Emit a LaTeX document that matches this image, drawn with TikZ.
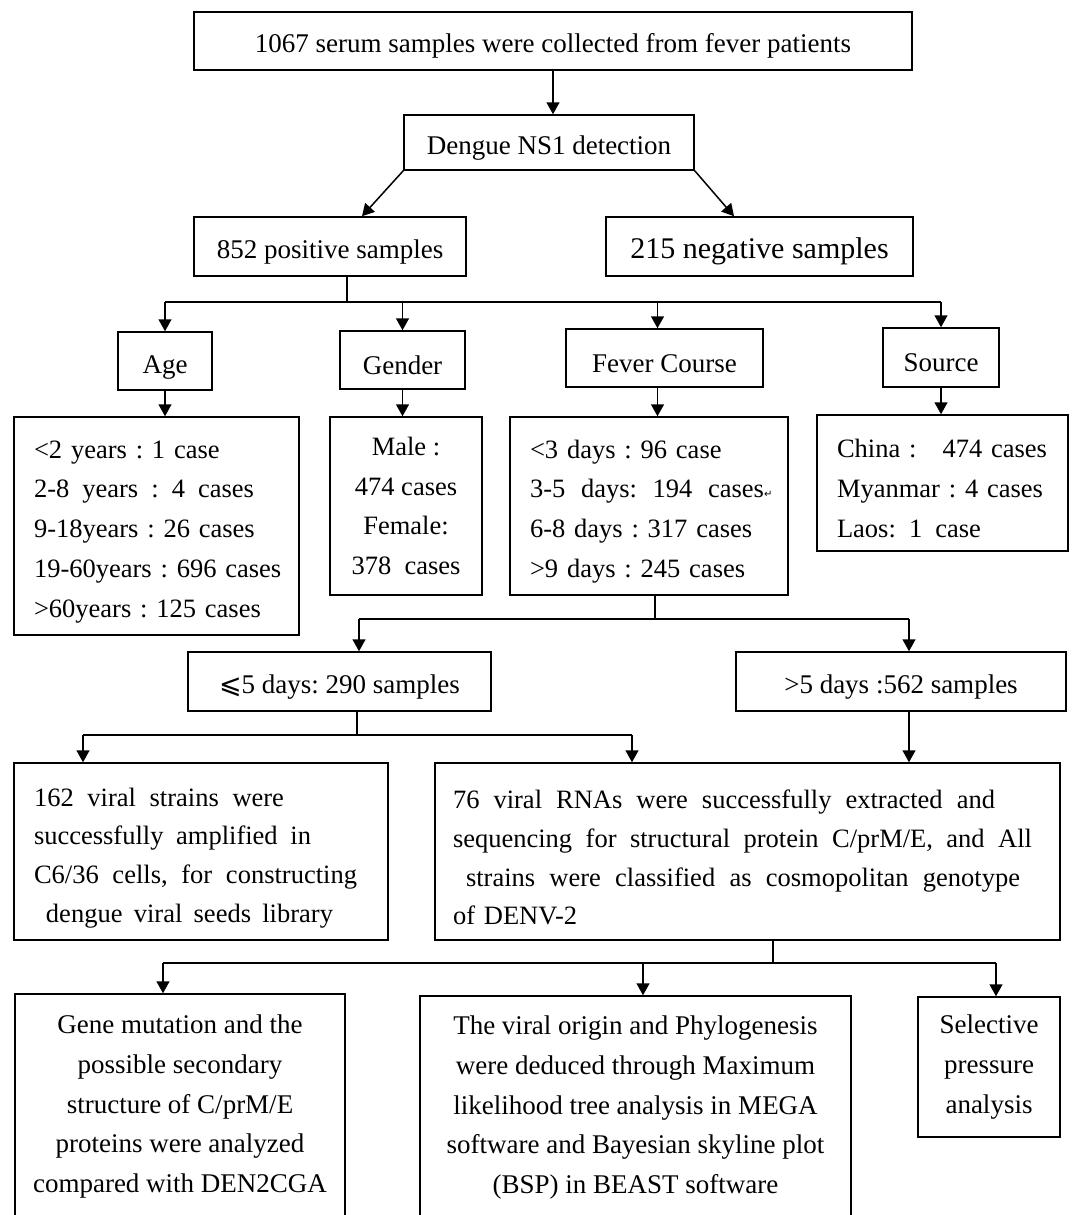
\documentclass[tikz,border=0pt]{standalone}
\usepackage{fontspec}
\setmainfont{Liberation Serif}
\newfontfamily\dejavu{DejaVu Sans}
\usetikzlibrary{arrows.meta,calc}
\frenchspacing
\newcommand{\jline}[2]{\leavevmode\hbox to #1{\spaceskip=0.25em plus 1fil\relax #2}}
\begin{document}
\begin{tikzpicture}[x=1pt,y=-1pt,
  sh/.style={execute at begin node={\rule{0pt}{#1}}},
  box/.style={draw,line width=1.5pt,inner sep=0pt,font=\fontsize{27}{39.8}\selectfont\frenchspacing,align=center,sh=29pt},
  lst/.style={draw,line width=1.5pt,inner ysep=0pt,inner xsep=20pt,font=\fontsize{26.5}{39.7}\selectfont\frenchspacing,align=left,sh=29pt},
  arr/.style={line width=1.5pt,-{Triangle[length=12pt,width=13pt]}},
  ln/.style={line width=1.5pt}]
\useasboundingbox (0,0) rectangle (1072,1215);
\clip (0,0) rectangle (1072,1215);

% top levels
\node[box,minimum width=718pt,minimum height=58pt] (top) at (553,41) {1067 serum samples were collected from fever patients};
\node[box,minimum width=290pt,minimum height=55pt] (ns1) at (549,142.5) {Dengue NS1 detection};
\node[box,minimum width=272pt,minimum height=59pt] (pos) at (330,246.5) {852 positive samples};
\node[box,minimum width=307pt,minimum height=59pt,font=\fontsize{30}{36}\selectfont,sh=30pt] (neg) at (759.5,246.5) {215 negative samples};

% categories
\node[box,minimum width=94pt,minimum height=58pt,sh=31pt] (age) at (165,361) {Age};
\node[box,minimum width=125pt,minimum height=58pt] (gender) at (402.5,360) {Gender};
\node[box,minimum width=197pt,minimum height=58pt] (fever) at (664.5,358) {Fever Course};
\node[box,minimum width=116pt,minimum height=59pt] (source) at (941,357.5) {Source};

% lists
\node[lst,text width=245pt,minimum height=218pt] (agel) at (156.5,526) {\mbox{<2 years : 1 case}\\
\jline{220pt}{2-8 years : 4 cases}\\
\mbox{9-18years : 26 cases}\\
\mbox{19-60years : 696 cases}\\
\mbox{>60years : 125 cases}};
\node[box,minimum width=152pt,minimum height=178pt,font=\fontsize{26.5}{39.7}\selectfont,sh=27pt] (genl) at (406,506) {Male :\\474 cases\\Female:\\378~~cases};
\node[lst,text width=238pt,minimum height=178pt] (fevl) at (649,506) {\mbox{<3 days : 96 case}\\
\jline{234pt}{3-5 days: 194 cases}{\dejavu\fontsize{10}{10}\selectfont ↵}\\
\mbox{6-8 days : 317 cases}\\
\mbox{>9 days : 245 cases}};
\node[lst,text width=211pt,minimum height=136pt,sh=22pt] (srcl) at (942.5,483) {\mbox{China :\hspace{26pt}474 cases}\\
\mbox{Myanmar : 4 cases}\\
\jline{144pt}{Laos: 1 case}};

% fever split
\node[box,minimum width=303pt,minimum height=59pt,sh=30pt] (le5) at (339.5,681.5) {{\dejavu ⩽}5 days: 290 samples};
\node[box,minimum width=330pt,minimum height=59pt,sh=30pt] (gt5) at (901,681.5) {>5 days :562 samples};

% results
\node[lst,text width=334pt,minimum height=177pt,font=\fontsize{26.5}{38.7}\selectfont\frenchspacing,sh=31pt] (v162) at (201,851.5) {\jline{250pt}{162 viral strains were}\\
\jline{277pt}{successfully amplified in}\\
\jline{323pt}{C6/36 cells, for constructing}\\
\hspace*{12pt}\jline{287pt}{dengue viral seeds library}};
\node[lst,inner xsep=18pt,text width=589pt,minimum height=177pt,font=\fontsize{26.5}{38.7}\selectfont\frenchspacing,sh=31pt] (v76) at (747.5,851.5) {\jline{542pt}{76 viral RNAs were successfully extracted and}\\
\jline{579pt}{sequencing for structural protein C/prM/E, and All}\\
\hspace*{13pt}\jline{554pt}{strains were classified as cosmopolitan genotype}\\
of DENV-2};

% analyses
\node[box,minimum width=330pt,minimum height=225pt,sh=29pt] (gene) at (180,1106.5) {Gene mutation and the\\possible secondary\\structure of C/prM/E\\proteins were analyzed\\compared with DEN2CGA};
\node[box,minimum width=431pt,minimum height=223pt,sh=29pt] (phy) at (635.5,1107.5) {The viral origin and Phylogenesis\\were deduced through Maximum\\likelihood tree analysis in MEGA\\software and Bayesian skyline plot\\(BSP) in BEAST software};
\node[box,minimum width=142pt,minimum height=140pt,sh=25pt] (sel) at (989,1067) {Selective\\pressure\\analysis};

% connectors
\draw[arr] (top.south) -- (top.south |- ns1.north);
\draw[arr] (ns1.south west) -- ([xshift=32pt]pos.north);
\draw[arr] (ns1.south east) -- ([xshift=-25.5pt]neg.north);

\coordinate (b1) at (347,302);
\coordinate (fx) at ([xshift=-7pt]fever.north);
\coordinate (fs) at ([xshift=-7pt]fever.south);
\draw[ln] ([xshift=17pt]pos.south) -- (b1);
\draw[ln] (age.north |- b1) -- (source.north |- b1);
\draw[arr] (age.north |- b1) -- (age.north);
\draw[arr] (gender.north |- b1) -- (gender.north);
\draw[arr] (fx |- b1) -- (fx);
\draw[arr] (source.north |- b1) -- (source.north);
\draw[arr] (age.south) -- (age.south |- agel.north);
\draw[arr] (gender.south) -- (gender.south |- genl.north);
\draw[arr] (fs) -- (fs |- fevl.north);
\draw[arr] (source.south) -- (source.south |- srcl.north);

\coordinate (b2) at (655,619);
\coordinate (le5t) at ([xshift=19.5pt]le5.north);
\coordinate (gt5t) at ([xshift=8pt]gt5.north);
\draw[ln] ([xshift=6pt]fevl.south) -- (b2);
\draw[ln] (le5t |- b2) -- (gt5t |- b2);
\draw[arr] (le5t |- b2) -- (le5t);
\draw[arr] (gt5t |- b2) -- (gt5t);

\coordinate (b3) at (357,735);
\coordinate (v162t) at ([xshift=-118pt]v162.north);
\coordinate (v76t) at ([xshift=-115.5pt]v76.north);
\coordinate (gs) at ([xshift=8pt]gt5.south);
\draw[ln] ([xshift=17.5pt]le5.south) -- (b3);
\draw[ln] (v162t |- b3) -- (v76t |- b3);
\draw[arr] (v162t |- b3) -- (v162t);
\draw[arr] (v76t |- b3) -- (v76t);
\draw[arr] (gs) -- (gs |- v76.north);

\coordinate (b4) at (773,963);
\coordinate (genet) at ([xshift=-17pt]gene.north);
\coordinate (phyt) at ([xshift=7.5pt]phy.north);
\coordinate (selt) at ([xshift=7pt]sel.north);
\draw[ln] ([xshift=25.5pt]v76.south) -- (b4);
\draw[ln] (genet |- b4) -- (selt |- b4);
\draw[arr] (genet |- b4) -- (genet);
\draw[arr] (phyt |- b4) -- (phyt);
\draw[arr] (selt |- b4) -- (selt);
\end{tikzpicture}
\end{document}
